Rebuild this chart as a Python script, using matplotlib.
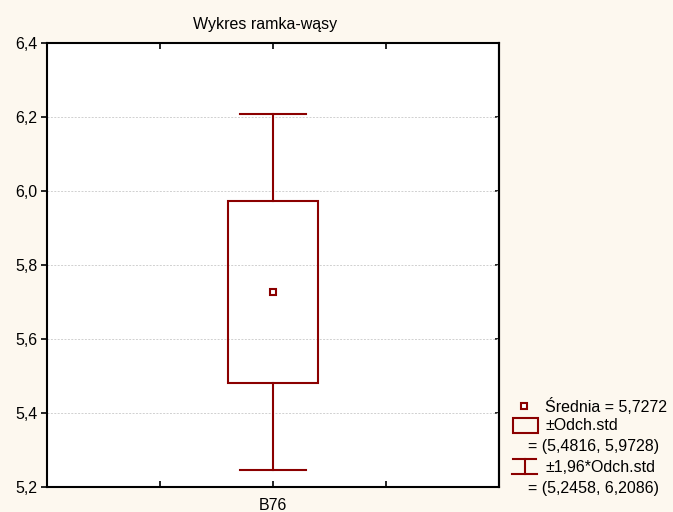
import matplotlib
matplotlib.use("Agg")
import matplotlib.pyplot as plt
from matplotlib.patches import Rectangle
from matplotlib.lines import Line2D

plt.rcParams['font.family'] = ['Liberation Sans', 'DejaVu Sans']
plt.rcParams['font.size'] = 11.5

# dane
categories = ['B76']
mean = [5.7272]
sd_low = [5.4816]
sd_high = [5.9728]
ci_low = [5.2458]
ci_high = [6.2086]
y_ticks = [5.2, 5.4, 5.6, 5.8, 6.0, 6.2, 6.4]

red = '#8b0000'
W, H = 673, 512


def fig_xy(px, py):
    return px / W, 1 - py / H


def comma(v, d):
    return f"{v:.{d}f}".replace('.', ',')


fig = plt.figure(figsize=(6.73, 5.12), dpi=100, facecolor='#fdf8ef')
ax = fig.add_axes([47 / W, (H - 487) / H, 452 / W, 444 / H])
ax.set_facecolor('white')

for i, c in enumerate(categories):
    x = 2 + i
    # ramka +- odch. std
    ax.add_patch(Rectangle((x - 0.4, sd_low[i]), 0.8, sd_high[i] - sd_low[i],
                           fill=False, edgecolor=red, lw=1.5, zorder=3))
    # wasy
    ax.plot([x, x], [ci_low[i], sd_low[i]], color=red, lw=1.5, zorder=3)
    ax.plot([x, x], [sd_high[i], ci_high[i]], color=red, lw=1.5, zorder=3)
    ax.plot([x - 0.29, x + 0.29], [ci_low[i]] * 2, color=red, lw=1.5, zorder=3)
    ax.plot([x - 0.29, x + 0.29], [ci_high[i]] * 2, color=red, lw=1.5, zorder=3)
    ax.plot([x], [mean[i]], marker='s', ms=5, mfc='white', mec=red, mew=1.5, zorder=4)

ax.set_xlim(0, 4)
ax.set_ylim(5.2, 6.4)
ax.set_xticks([1, 2, 3])
ax.set_xticklabels(['', categories[0], ''])
ax.set_yticks(y_ticks)
ax.set_yticklabels([comma(v, 1) for v in y_ticks])
ax.tick_params(axis='x', direction='in', top=True, length=4, width=1.2, pad=8)
ax.tick_params(axis='y', direction='out', length=4, width=1.2, pad=3)
ax.grid(axis='y', color='#d0d0d0', linestyle=(0, (2, 1.5)), lw=0.7)
for s in ax.spines.values():
    s.set_linewidth(1.5)

right = ax.secondary_yaxis('right')
right.set_yticks(y_ticks)
right.set_yticklabels([])
right.tick_params(direction='in', length=3, width=1.2)
right.spines['right'].set_linewidth(1.5)

ax.set_title('Wykres ramka-wąsy', fontsize=11.5, pad=10, x=0.482)

# legenda
lx, ly = fig_xy(524, 406)
fig.add_artist(Line2D([lx], [ly], marker='s', ms=5, mfc='white', mec=red, mew=1.5,
                      transform=fig.transFigure))
fig.text(*fig_xy(545, 406), f"Średnia = {comma(mean[0], 4)}", va='center')

rx, ry = fig_xy(513, 433)
fig.add_artist(Rectangle((rx, ry), 25 / W, 15 / H, fill=False, edgecolor=red, lw=1.5,
                         transform=fig.transFigure))
fig.text(*fig_xy(545, 426), "±Odch.std", va='center')
fig.text(*fig_xy(528, 447), f"= ({comma(sd_low[0], 4)}, {comma(sd_high[0], 4)})", va='center')

x0, x1, xm = 512 / W, 537 / W, 524.5 / W
yt, yb = 1 - 459 / H, 1 - 474 / H
fig.add_artist(Line2D([x0 + 1 / W, x1 - 1 / W], [yt, yt], color=red, lw=1.5, transform=fig.transFigure))
fig.add_artist(Line2D([xm, xm], [yt, yb], color=red, lw=1.5, transform=fig.transFigure))
fig.add_artist(Line2D([x0, x1], [yb, yb], color=red, lw=1.5, transform=fig.transFigure))
fig.text(*fig_xy(545, 467), "±1,96*Odch.std", va='center')
fig.text(*fig_xy(528, 488), f"= ({comma(ci_low[0], 4)}, {comma(ci_high[0], 4)})", va='center')

fig.savefig('out.png', dpi=100, facecolor=fig.get_facecolor())
